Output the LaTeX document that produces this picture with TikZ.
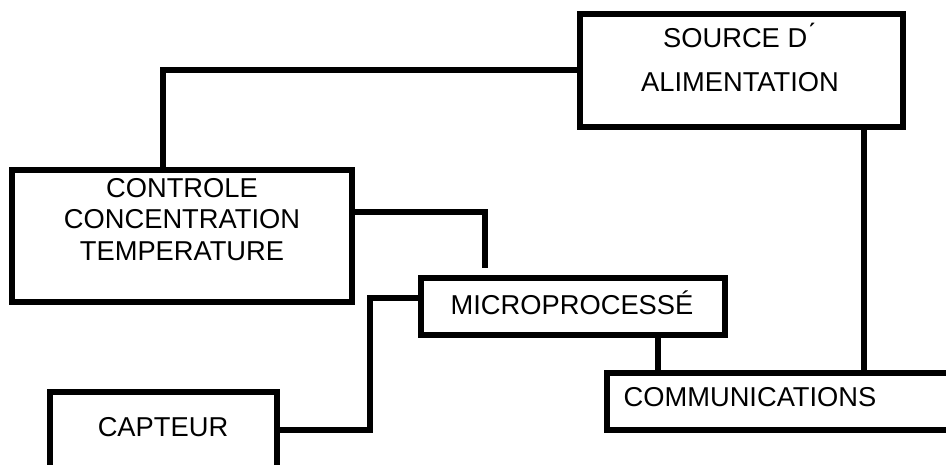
\documentclass[tikz,border=0pt]{standalone}
\usepackage{fontspec}
\setmainfont{Liberation Sans}
\begin{document}
\begin{tikzpicture}[x=1pt,y=-1pt,
  box/.style={draw=black,line width=5.5pt,rectangle,inner sep=0pt,outer sep=0pt},
  lbl/.style={align=center,inner sep=0pt,font=\fontsize{27.3}{31.5}\selectfont},
  wire/.style={draw=black,line width=5.5pt}]
\useasboundingbox (0,0) rectangle (946,464);
\clip (0,0) rectangle (946,464);
% boxes
\node[box,minimum width=323pt,minimum height=113pt] (src) at (741.5,70.5) {};
\node[box,minimum width=340pt,minimum height=132pt] (ctl) at (182,236) {};
\node[box,minimum width=304pt,minimum height=57pt] (mic) at (573,306.5) {};
\node[box,minimum width=227pt,minimum height=88pt] (cap) at (163.5,436) {};
\node[box,minimum width=353pt,minimum height=57pt] (com) at (783.5,401.5) {};
% texts
\node[lbl] (srcA) at (739,35) {SOURCE D\'{}};
\node[lbl] (srcB) at (740,82.5) {ALIMENTATION};
\node[lbl] (ctlT) at (182,219.5) {CONTROLE\\CONCENTRATION\\TEMPERATURE};
\node[lbl] (micT) at (572,303) {MICROPROCESSÉ};
\node[lbl] (capT) at (163,427) {CAPTEUR};
\node[lbl] (comT) at (750,397.5) {COMMUNICATIONS};
% connectors
\coordinate (ctlTop) at (163,167);
\coordinate (micTop) at (485,268);
\draw[wire] (src.west |- 0,70) -| (ctlTop);
\draw[wire] (ctl.east |- 0,212) -| (micTop);
\draw[wire] (mic.west |- 0,298) -| (370,364) |- (cap.east |- 0,430);
\draw[wire] (658,0 |- mic.south) -- (658,0 |- com.north);
\draw[wire] (864,0 |- src.south) -- (864,0 |- com.north);
\end{tikzpicture}
\end{document}
